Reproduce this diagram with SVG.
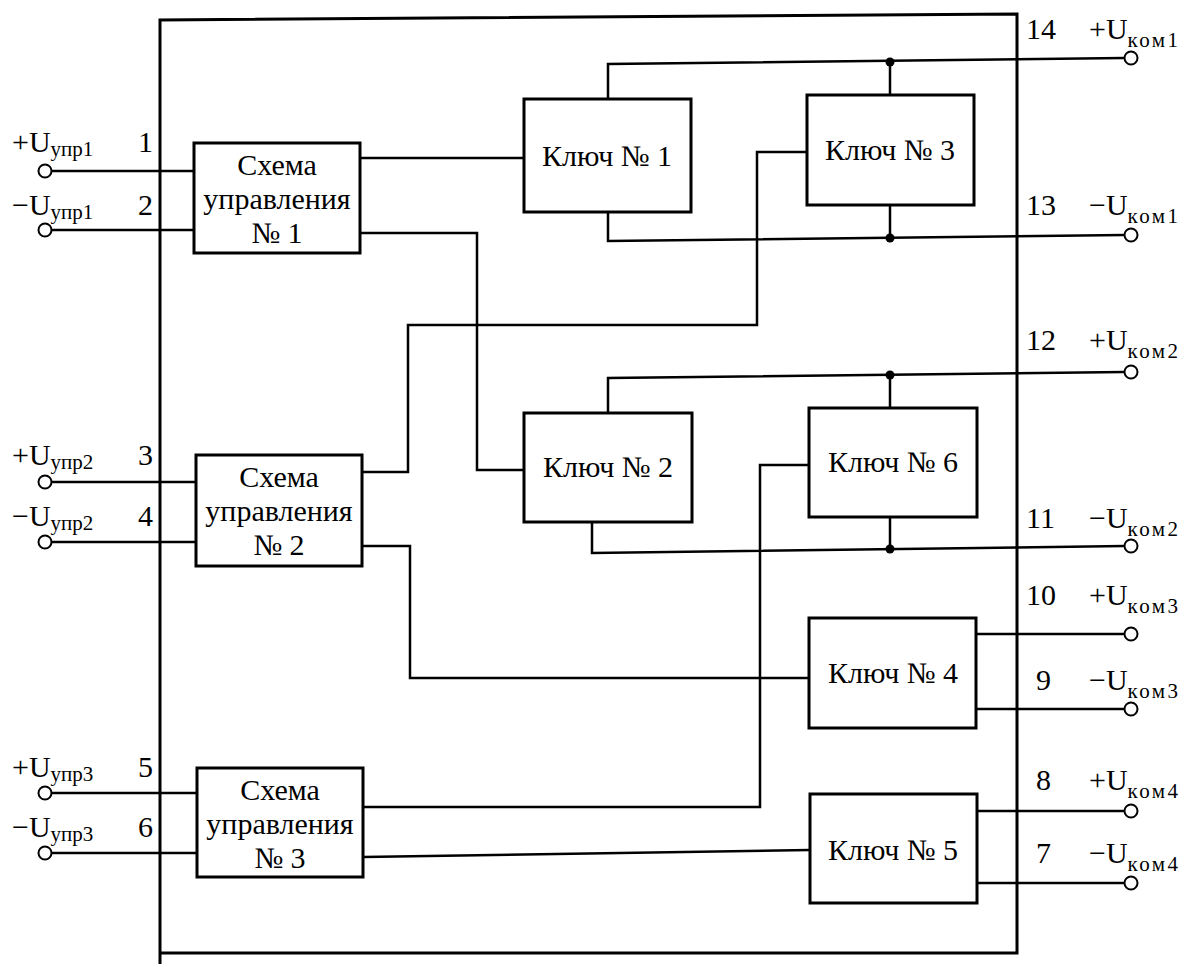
<svg xmlns="http://www.w3.org/2000/svg" width="1196" height="964" viewBox="0 0 1196 964">
<style>
.w{fill:none;stroke:#000;stroke-width:2.5}
.b{fill:#fff;stroke:#000;stroke-width:3}
.t{font-family:"Liberation Serif","Times New Roman",serif;font-size:30px;fill:#000}
.c{text-anchor:middle}
.s{font-size:21px}
.sr{font-size:21px;letter-spacing:2.5px}
.term{fill:#fff;stroke:#000;stroke-width:2}
.dot{fill:#000}
</style>
<rect x="0" y="0" width="1196" height="964" fill="#fff"/>
<g id="frame"><path d="M160,964 V20 L1017,14 V953 H160" fill="none" stroke="#000" stroke-width="3"/></g>
<g id="connectors">
<path class="w" d="M52,171 H195"/>
<path class="w" d="M52,230 H195"/>
<path class="w" d="M52,482 H196"/>
<path class="w" d="M52,542 H196"/>
<path class="w" d="M52,793 H197"/>
<path class="w" d="M52,853 H197"/>
<path class="w" d="M360,158 H524"/>
<path class="w" d="M360,233 H477 V470 H524"/>
<path class="w" d="M362,472 H408 V325 H757 V152 H807"/>
<path class="w" d="M362,546 H410 V678 H809"/>
<path class="w" d="M363,807 H760 V465 H809"/>
<path class="w" d="M363,857 L810,850"/>
<path class="w" d="M608,99 V64 L1124,58"/>
<path class="w" d="M890,62 V95"/>
<path class="w" d="M608,212 V241 L1124,235"/>
<path class="w" d="M890,205 V238"/>
<path class="w" d="M608,413 V378 L1124,372"/>
<path class="w" d="M890,375 V408"/>
<path class="w" d="M592,522 V553 L1124,546"/>
<path class="w" d="M890,517 V549"/>
<path class="w" d="M976,634 H1124"/>
<path class="w" d="M976,709 H1124"/>
<path class="w" d="M977,811 H1124"/>
<path class="w" d="M977,883 H1124"/>
<circle class="dot" cx="890" cy="62" r="4.5"/>
<circle class="dot" cx="890" cy="238" r="4.5"/>
<circle class="dot" cx="890" cy="375" r="4.5"/>
<circle class="dot" cx="890" cy="549" r="4.5"/>
</g>
<g id="terminals">
<circle class="term" cx="45" cy="171" r="6.5"/>
<circle class="term" cx="45" cy="230" r="6.5"/>
<circle class="term" cx="45" cy="482" r="6.5"/>
<circle class="term" cx="45" cy="542" r="6.5"/>
<circle class="term" cx="45" cy="793" r="6.5"/>
<circle class="term" cx="45" cy="853" r="6.5"/>
<circle class="term" cx="1131" cy="58" r="6.5"/>
<circle class="term" cx="1131" cy="235" r="6.5"/>
<circle class="term" cx="1131" cy="372" r="6.5"/>
<circle class="term" cx="1131" cy="546" r="6.5"/>
<circle class="term" cx="1131" cy="634" r="6.5"/>
<circle class="term" cx="1131" cy="709" r="6.5"/>
<circle class="term" cx="1131" cy="811" r="6.5"/>
<circle class="term" cx="1131" cy="883" r="6.5"/>
</g>
<g id="labels-left" class="t">
<text x="12" y="152">+U<tspan class="s" dy="4">упр1</tspan></text>
<text x="138" y="152">1</text>
<text x="12" y="215">−U<tspan class="s" dy="4">упр1</tspan></text>
<text x="138" y="215">2</text>
<text x="12" y="465">+U<tspan class="s" dy="4">упр2</tspan></text>
<text x="138" y="465">3</text>
<text x="12" y="526">−U<tspan class="s" dy="4">упр2</tspan></text>
<text x="138" y="526">4</text>
<text x="12" y="777">+U<tspan class="s" dy="4">упр3</tspan></text>
<text x="138" y="777">5</text>
<text x="12" y="837">−U<tspan class="s" dy="4">упр3</tspan></text>
<text x="138" y="837">6</text>
</g>
<g id="labels-right" class="t">
<text x="1026" y="39">14</text><text x="1089" y="39">+U<tspan class="sr" dy="8">ком1</tspan></text>
<text x="1026" y="215">13</text><text x="1089" y="215">−U<tspan class="sr" dy="8">ком1</tspan></text>
<text x="1026" y="350">12</text><text x="1089" y="350">+U<tspan class="sr" dy="8">ком2</tspan></text>
<text x="1026" y="528">11</text><text x="1089" y="528">−U<tspan class="sr" dy="8">ком2</tspan></text>
<text x="1026" y="605">10</text><text x="1089" y="605">+U<tspan class="sr" dy="8">ком3</tspan></text>
<text x="1036" y="690">9</text><text x="1089" y="690">−U<tspan class="sr" dy="8">ком3</tspan></text>
<text x="1036" y="790">8</text><text x="1089" y="790">+U<tspan class="sr" dy="8">ком4</tspan></text>
<text x="1036" y="863">7</text><text x="1089" y="863">−U<tspan class="sr" dy="8">ком4</tspan></text>
</g>
<g id="su1">
<rect class="b" x="194" y="143" width="166" height="110"/>
<text class="t c" x="277" y="175">Схема</text>
<text class="t c" x="277" y="209">управления</text>
<text class="t c" x="277" y="243">№ 1</text>
</g>
<g id="su2">
<rect class="b" x="196" y="455" width="166" height="111"/>
<text class="t c" x="279" y="487">Схема</text>
<text class="t c" x="279" y="521">управления</text>
<text class="t c" x="279" y="555">№ 2</text>
</g>
<g id="su3">
<rect class="b" x="197" y="768" width="166" height="109"/>
<text class="t c" x="280" y="800">Схема</text>
<text class="t c" x="280" y="834">управления</text>
<text class="t c" x="280" y="868">№ 3</text>
</g>
<g id="key1">
<rect class="b" x="524" y="99" width="167" height="113"/>
<text class="t c" x="607" y="166">Ключ № 1</text>
</g>
<g id="key3">
<rect class="b" x="807" y="95" width="167" height="110"/>
<text class="t c" x="890" y="160">Ключ № 3</text>
</g>
<g id="key2">
<rect class="b" x="524" y="413" width="168" height="109"/>
<text class="t c" x="608" y="477">Ключ № 2</text>
</g>
<g id="key6">
<rect class="b" x="809" y="408" width="168" height="109"/>
<text class="t c" x="893" y="472">Ключ № 6</text>
</g>
<g id="key4">
<rect class="b" x="809" y="618" width="167" height="110"/>
<text class="t c" x="893" y="683">Ключ № 4</text>
</g>
<g id="key5">
<rect class="b" x="810" y="794" width="167" height="109"/>
<text class="t c" x="893" y="860">Ключ № 5</text>
</g>
</svg>
